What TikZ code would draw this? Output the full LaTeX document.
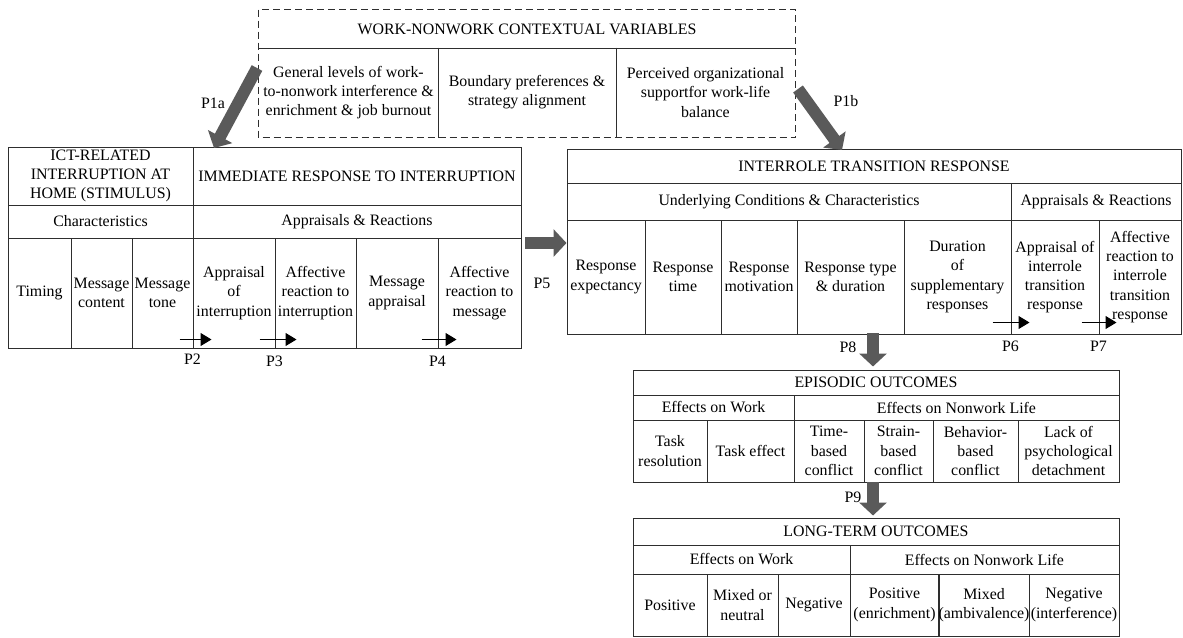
\documentclass[tikz,border=0pt]{standalone}
\usepackage{fontspec}
\setmainfont{Liberation Serif}
\usetikzlibrary{arrows.meta}
\usetikzlibrary{calc}
\usetikzlibrary{positioning}

\definecolor{linegray}{HTML}{2E2E2E}
\definecolor{arrowgray}{HTML}{5A5A5A}

% one table cell: [style]{name}{x1}{y1}{x2}{y2}{text}
\newcommand{\tabcell}[7][]{%
  \node[tcell, #1, minimum width={(#5)-(#3)}, minimum height={(#6)-(#4)}]
    (#2) at ({((#3)+(#5))/2},{((#4)+(#6))/2}) {#7};}

\begin{document}
\begin{tikzpicture}[x=1pt, y=-1pt,
  tcell/.style={draw=linegray, line width=1pt, align=center, inner sep=0pt,
    font=\fontsize{15.9}{19.2}\selectfont},
  freecell/.style={draw=none},
  bigarrow/.style={arrowgray, line width=12pt, -{Triangle[length=13pt, width=27pt]}},
  smallarrow/.style={black, line width=1.1pt, -{Triangle[length=11pt, width=13pt]}},
  plabel/.style={font=\fontsize{15.9}{19.2}\selectfont, inner sep=1pt}]

% Bounding box
\useasboundingbox (0,0) rectangle (1183,637);

% Contextual variables
\tabcell[freecell]{ctxtitle}{259}{10}{795}{48}{WORK-NONWORK CONTEXTUAL VARIABLES}
\foreach \xa/\xb/\nm/\txt in {
    259/438/ctxlevels/{General levels of work-\\to-nonwork interference \&\\enrichment \& job burnout},
    438/616/ctxbound/{Boundary preferences \&\\strategy alignment},
    616/795/ctxsupport/{Perceived organizational\\supportfor work-life\\balance}} {
  \tabcell[freecell]{\nm}{\xa}{48}{\xb}{137}{\txt}
}
\draw[linegray, line width=1pt, dash pattern=on 7pt off 4pt]
  (ctxtitle.north west) rectangle (ctxsupport.south east);
\draw[linegray, line width=1pt] (ctxtitle.south west) -- (ctxtitle.south east);
\draw[linegray, line width=1pt] (ctxlevels.north east) -- (ctxlevels.south east);
\draw[linegray, line width=1pt] (ctxbound.north east) -- (ctxbound.south east);

% Interruption and immediate response
\tabcell{icthead}{8}{147}{193}{205}{ICT-RELATED\\INTERRUPTION AT\\HOME (STIMULUS)}
\tabcell{imhead}{193}{147}{521}{205}{IMMEDIATE RESPONSE TO INTERRUPTION}
\tabcell{charhead}{8}{205}{193}{238}{Characteristics}
\tabcell{appleft}{193}{205}{521}{238}{Appraisals \& Reactions}
\foreach \xa/\xb/\nm/\txt in {
    8/71/timing/{Timing},
    71/132/msgcont/{Message\\content},
    132/193/msgtone/{Message\\tone},
    193/275/appint/{Appraisal\\of\\interruption},
    275/356/affint/{Affective\\reaction to\\interruption},
    356/438/msgapp/{Message\\appraisal},
    438/521/affmsg/{Affective\\reaction to\\message}} {
  \tabcell{\nm}{\xa}{238}{\xb}{348}{\txt}
}

% Interrole transition response
\tabcell{irthead}{567}{149}{1181}{183}{INTERROLE TRANSITION RESPONSE}
\tabcell{condhead}{567}{183}{1011}{220}{Underlying Conditions \& Characteristics}
\tabcell{appright}{1011}{183}{1181}{220}{Appraisals \& Reactions}
\foreach \xa/\xb/\nm/\txt in {
    567/645/respexp/{Response\\expectancy},
    645/721/resptime/{Response\\time},
    721/797/respmot/{Response\\motivation},
    797/904/resptype/{Response type\\\& duration},
    904/1011/suppdur/{Duration\\of\\supplementary\\responses},
    1011/1099/appirt/{Appraisal of\\interrole\\transition\\response},
    1099/1181/affirt/{Affective\\reaction to\\interrole\\transition\\response}} {
  \tabcell{\nm}{\xa}{220}{\xb}{334}{\txt}
}

% Episodic outcomes
\tabcell{epititle}{633}{370}{1119}{395}{EPISODIC OUTCOMES}
\tabcell{epiwork}{633}{395}{794}{420}{Effects on Work}
\tabcell{epilife}{794}{395}{1119}{420}{Effects on Nonwork Life}
\foreach \xa/\xb/\nm/\txt in {
    633/707/taskres/{Task\\resolution},
    707/794/taskeff/{Task effect},
    794/864/timecon/{Time-\\based\\conflict},
    864/933/straincon/{Strain-\\based\\conflict},
    933/1018/behavcon/{Behavior-\\based\\conflict},
    1018/1119/detach/{Lack of\\psychological\\detachment}} {
  \tabcell{\nm}{\xa}{420}{\xb}{482}{\txt}
}

% Long-term outcomes
\tabcell{lttitle}{633}{518}{1119}{545}{LONG-TERM OUTCOMES}
\tabcell{ltwork}{633}{545}{850}{574}{Effects on Work}
\tabcell{ltlife}{850}{545}{1119}{574}{Effects on Nonwork Life}
\foreach \xa/\xb/\nm/\txt in {
    633/707/wpos/{Positive},
    707/778/wmix/{Mixed or\\neutral},
    778/850/wneg/{Negative},
    850/939/lpos/{Positive\\(enrichment)},
    939/1029/lmix/{Mixed\\(ambivalence)},
    1029/1119/lneg/{Negative\\(interference)}} {
  \tabcell{\nm}{\xa}{574}{\xb}{636}{\txt}
}

% Big arrows
\coordinate (p1atail) at (257,68);
\coordinate (p1atip) at (214,148);
\coordinate (p1btail) at (798,89);
\coordinate (p1btip) at (842,150);
\coordinate (p5tail) at (525,243);
\coordinate (p8tail) at (873,333);
\coordinate (p9tail) at (873,482);
\draw[bigarrow] (p1atail) -- (p1atip);
\draw[bigarrow] (p1btail) -- (p1btip);
\draw[bigarrow] (p5tail) -- (p5tail -| respexp.west);
\draw[bigarrow, shorten >=3pt] (p8tail) -- (p8tail |- epititle.north);
\draw[bigarrow, shorten >=2pt] (p9tail) -- (p9tail |- lttitle.north);
\node[plabel] (p1alab) at (213,103) {P1a};
\node[plabel] (p1blab) at (846,101) {P1b};
\node[plabel] (p5lab) at (542,283) {P5};
\node[plabel] (p8lab) at (848,347) {P8};
\node[plabel] (p9lab) at (853,497) {P9};

% Small arrows
\draw[smallarrow] ([xshift=-13pt, yshift=9pt]appint.south west) -- ++(32,0);
\draw[smallarrow] ([xshift=-15pt, yshift=9pt]affint.south west) -- ++(37,0);
\draw[smallarrow] ([xshift=-16pt, yshift=9pt]affmsg.south west) -- ++(35,0);
\draw[smallarrow] ([xshift=-18pt, yshift=12pt]appirt.south west) -- ++(37,0);
\draw[smallarrow] ([xshift=-17pt, yshift=12pt]affirt.south west) -- ++(35,0);
\node[plabel, below=4pt of appint.south west] (p2lab) {P2};
\node[plabel, below=6pt of affint.south west] (p3lab) {P3};
\node[plabel, below=6pt of affmsg.south west] (p4lab) {P4};
\node[plabel, below=5pt of appirt.south west] (p6lab) {P6};
\node[plabel, below=5pt of affirt.south west] (p7lab) {P7};

\end{tikzpicture}
\end{document}
